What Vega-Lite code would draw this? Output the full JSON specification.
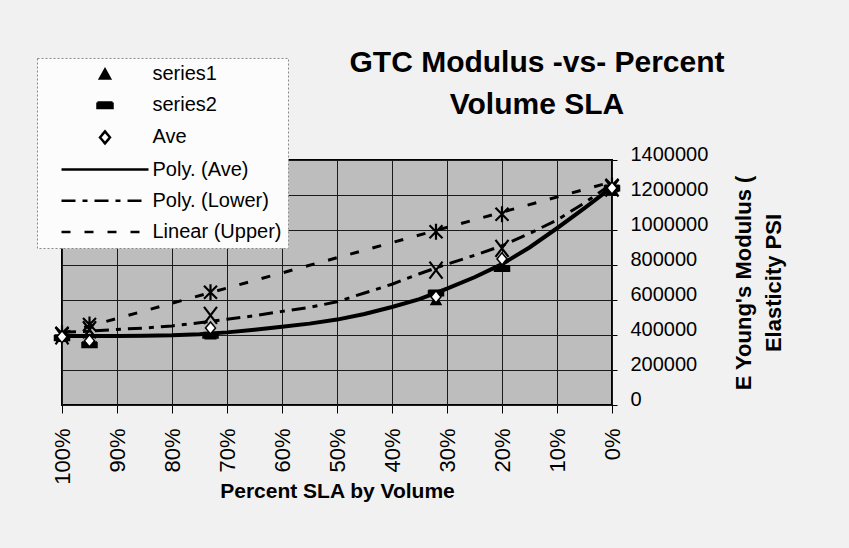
{
  "$schema": "https://vega.github.io/schema/vega-lite/v6.json",
  "width": 550,
  "height": 245,
  "autosize": {"type": "none"},
  "padding": {"left": 62, "top": 160, "right": 237, "bottom": 143},
  "background": "#f1f1f1",
  "config": {
    "font": "Liberation Sans",
    "view": {"fill": "#bdbdbd", "stroke": "#000000", "strokeWidth": 2},
    "axis": {"domain": false, "labelColor": "#000000", "titleColor": "#000000", "tickColor": "#000000", "gridColor": "#1a1a1a", "gridWidth": 1, "gridOpacity": 1},
    "legend": {"strokeWidth": 1, "strokeDash": [2, 2]}
  },
  "title": {
    "text": ["GTC Modulus -vs- Percent", "Volume SLA"],
    "font": "Liberation Sans",
    "fontSize": 30,
    "fontWeight": "bold",
    "color": "#000000",
    "anchor": "middle",
    "frame": "group",
    "dx": 200,
    "dy": 98,
    "lineHeight": 42,
    "offset": 36
  },
  "datasets": {
    "points": [
      {"series": "series1", "pct": 1.00, "value": 390000},
      {"series": "series1", "pct": 0.95, "value": 360000},
      {"series": "series1", "pct": 0.73, "value": 405000},
      {"series": "series1", "pct": 0.32, "value": 600000},
      {"series": "series1", "pct": 0.20, "value": 790000},
      {"series": "series1", "pct": 0.00, "value": 1230000},
      {"series": "series2", "pct": 1.00, "value": 385000},
      {"series": "series2", "pct": 0.95, "value": 345000},
      {"series": "series2", "pct": 0.73, "value": 398000},
      {"series": "series2", "pct": 0.32, "value": 640000},
      {"series": "series2", "pct": 0.20, "value": 780000},
      {"series": "series2", "pct": 0.00, "value": 1240000},
      {"series": "Ave", "pct": 1.00, "value": 390000},
      {"series": "Ave", "pct": 0.95, "value": 367000},
      {"series": "Ave", "pct": 0.73, "value": 440000},
      {"series": "Ave", "pct": 0.32, "value": 618000},
      {"series": "Ave", "pct": 0.20, "value": 835000},
      {"series": "Ave", "pct": 0.00, "value": 1240000},
      {"series": "Lower", "pct": 1.00, "value": 395000},
      {"series": "Lower", "pct": 0.95, "value": 430000},
      {"series": "Lower", "pct": 0.73, "value": 512000},
      {"series": "Lower", "pct": 0.32, "value": 771000},
      {"series": "Lower", "pct": 0.20, "value": 895000},
      {"series": "Lower", "pct": 0.00, "value": 1240000},
      {"series": "Upper", "pct": 1.00, "value": 410000},
      {"series": "Upper", "pct": 0.95, "value": 460000},
      {"series": "Upper", "pct": 0.73, "value": 644000},
      {"series": "Upper", "pct": 0.32, "value": 990000},
      {"series": "Upper", "pct": 0.20, "value": 1090000},
      {"series": "Upper", "pct": 0.00, "value": 1255000}
    ],
    "trends": [
      {"series": "Poly. (Ave)", "pct": 1.00, "value": 395000},
      {"series": "Poly. (Ave)", "pct": 0.95, "value": 395000},
      {"series": "Poly. (Ave)", "pct": 0.90, "value": 395000},
      {"series": "Poly. (Ave)", "pct": 0.85, "value": 396000},
      {"series": "Poly. (Ave)", "pct": 0.80, "value": 398000},
      {"series": "Poly. (Ave)", "pct": 0.75, "value": 404000},
      {"series": "Poly. (Ave)", "pct": 0.70, "value": 415000},
      {"series": "Poly. (Ave)", "pct": 0.65, "value": 430000},
      {"series": "Poly. (Ave)", "pct": 0.60, "value": 447000},
      {"series": "Poly. (Ave)", "pct": 0.55, "value": 465000},
      {"series": "Poly. (Ave)", "pct": 0.50, "value": 488000},
      {"series": "Poly. (Ave)", "pct": 0.45, "value": 520000},
      {"series": "Poly. (Ave)", "pct": 0.40, "value": 560000},
      {"series": "Poly. (Ave)", "pct": 0.35, "value": 605000},
      {"series": "Poly. (Ave)", "pct": 0.30, "value": 665000},
      {"series": "Poly. (Ave)", "pct": 0.25, "value": 730000},
      {"series": "Poly. (Ave)", "pct": 0.20, "value": 805000},
      {"series": "Poly. (Ave)", "pct": 0.15, "value": 900000},
      {"series": "Poly. (Ave)", "pct": 0.10, "value": 1010000},
      {"series": "Poly. (Ave)", "pct": 0.05, "value": 1125000},
      {"series": "Poly. (Ave)", "pct": 0.00, "value": 1245000},
      {"series": "Poly. (Lower)", "pct": 1.00, "value": 415000},
      {"series": "Poly. (Lower)", "pct": 0.95, "value": 422000},
      {"series": "Poly. (Lower)", "pct": 0.90, "value": 432000},
      {"series": "Poly. (Lower)", "pct": 0.85, "value": 440000},
      {"series": "Poly. (Lower)", "pct": 0.80, "value": 452000},
      {"series": "Poly. (Lower)", "pct": 0.75, "value": 470000},
      {"series": "Poly. (Lower)", "pct": 0.70, "value": 490000},
      {"series": "Poly. (Lower)", "pct": 0.65, "value": 510000},
      {"series": "Poly. (Lower)", "pct": 0.60, "value": 535000},
      {"series": "Poly. (Lower)", "pct": 0.55, "value": 558000},
      {"series": "Poly. (Lower)", "pct": 0.50, "value": 590000},
      {"series": "Poly. (Lower)", "pct": 0.45, "value": 640000},
      {"series": "Poly. (Lower)", "pct": 0.40, "value": 690000},
      {"series": "Poly. (Lower)", "pct": 0.35, "value": 750000},
      {"series": "Poly. (Lower)", "pct": 0.30, "value": 805000},
      {"series": "Poly. (Lower)", "pct": 0.25, "value": 855000},
      {"series": "Poly. (Lower)", "pct": 0.20, "value": 910000},
      {"series": "Poly. (Lower)", "pct": 0.15, "value": 980000},
      {"series": "Poly. (Lower)", "pct": 0.10, "value": 1057000},
      {"series": "Poly. (Lower)", "pct": 0.05, "value": 1155000},
      {"series": "Poly. (Lower)", "pct": 0.00, "value": 1265000},
      {"series": "Linear (Upper)", "pct": 1.00, "value": 408000},
      {"series": "Linear (Upper)", "pct": 0.00, "value": 1275000}
    ]
  },
  "encoding": {
    "x": {
      "field": "pct",
      "type": "quantitative",
      "scale": {"domain": [0, 1], "reverse": true, "nice": false},
      "axis": {
        "title": "Percent SLA by Volume",
        "titleFont": "Liberation Sans",
        "titleFontSize": 21,
        "titleFontWeight": "bold",
        "titlePadding": -4,
        "values": [0, 0.1, 0.2, 0.3, 0.4, 0.5, 0.6, 0.7, 0.8, 0.9, 1],
        "format": ".0%",
        "labelAngle": 270,
        "labelFontSize": 22,
        "labelPadding": 15,
        "tickSize": 8,
        "grid": true
      }
    },
    "y": {
      "field": "value",
      "type": "quantitative",
      "scale": {"domain": [0, 1400000], "nice": false},
      "axis": {
        "orient": "right",
        "title": ["E Young's Modulus (", "Elasticity PSI"],
        "titleFont": "Liberation Sans",
        "titleFontSize": 22,
        "titleFontWeight": "bold",
        "titleAngle": 270,
        "titleBaseline": "top",
        "titleLineHeight": 30,
        "titlePadding": -4,
        "values": [0, 200000, 400000, 600000, 800000, 1000000, 1200000, 1400000],
        "format": "d",
        "labelFontSize": 20,
        "labelPadding": 13,
        "labelOffset": -6,
        "tickSize": 5,
        "grid": true
      }
    }
  },
  "layer": [
    {
      "data": {"name": "trends"},
      "transform": [{"filter": "datum.series === 'Poly. (Ave)'"}],
      "mark": {"type": "line", "color": "#000000", "strokeWidth": 4, "clip": true},
      "encoding": {}
    },
    {
      "data": {"name": "trends"},
      "transform": [{"filter": "datum.series === 'Poly. (Lower)'"}],
      "mark": {"type": "line", "color": "#000000", "strokeWidth": 3, "strokeDash": [14, 7, 5, 7], "clip": true},
      "encoding": {}
    },
    {
      "data": {"name": "trends"},
      "transform": [{"filter": "datum.series === 'Linear (Upper)'"}],
      "mark": {"type": "line", "color": "#000000", "strokeWidth": 3, "strokeDash": [9, 14], "clip": true},
      "encoding": {}
    },
    {
      "data": {"name": "points"},
      "transform": [{"filter": "datum.series === 'Upper'"}],
      "mark": {"type": "point", "filled": false, "stroke": "#000000", "strokeWidth": 2.2, "size": 100, "opacity": 1, "shape": "M-1.3,-1.3L1.3,1.3M-1.3,1.3L1.3,-1.3M0,-1.6V1.6"},
      "encoding": {}
    },
    {
      "data": {"name": "points"},
      "transform": [{"filter": "datum.series === 'Lower'"}],
      "mark": {"type": "point", "filled": false, "stroke": "#000000", "strokeWidth": 2.2, "size": 100, "opacity": 1, "shape": "M-1.3,-1.7L1.3,1.7M-1.3,1.7L1.3,-1.7"},
      "encoding": {}
    },
    {
      "data": {"name": "points"},
      "transform": [{"filter": "datum.series === 'series1' || datum.series === 'series2' || datum.series === 'Ave'"}],
      "mark": {"type": "point", "filled": true, "strokeWidth": 1.5, "size": 100, "opacity": 1},
      "encoding": {
        "shape": {
          "field": "series",
          "type": "nominal",
          "scale": {
            "domain": ["series1", "series2", "Ave", "Poly. (Ave)", "Poly. (Lower)", "Linear (Upper)"],
            "range": ["M0,-0.9L1,0.9L-1,0.9Z", "M-1.5,-0.55H1.5V0.55H-1.5Z", "M0,-1.2L1,0L0,1.2L-1,0Z", "M-8.7,0H8.7", "M-8.7,0H8.7", "M-8.7,0H8.7"]
          },
          "legend": {"title": null, "orient": "none", "legendX": -25, "legendY": -102, "padding": 6, "rowPadding": 11.2, "symbolSize": 100, "symbolOffset": 52, "labelOffset": 37.5, "symbolStrokeWidth": 2.5, "symbolFillColor": "#000000", "symbolStrokeColor": "#000000", "labelFont": "Liberation Sans", "labelFontSize": 20, "labelColor": "#000000", "fillColor": "#fcfcfc", "strokeColor": "#8a8a8a"}
        },
        "fill": {
          "field": "series",
          "type": "nominal",
          "scale": {
            "domain": ["series1", "series2", "Ave", "Poly. (Ave)", "Poly. (Lower)", "Linear (Upper)"],
            "range": ["#000000", "#000000", "#ffffff", "#000000", "#000000", "#000000"]
          },
          "legend": {"title": null, "orient": "none", "legendX": -25, "legendY": -102, "padding": 6, "rowPadding": 11.2, "symbolSize": 100, "symbolOffset": 52, "labelOffset": 37.5, "symbolStrokeWidth": 2.5, "symbolFillColor": "#000000", "symbolStrokeColor": "#000000", "labelFont": "Liberation Sans", "labelFontSize": 20, "labelColor": "#000000", "fillColor": "#fcfcfc", "strokeColor": "#8a8a8a"}
        },
        "stroke": {
          "field": "series",
          "type": "nominal",
          "scale": {
            "domain": ["series1", "series2", "Ave", "Poly. (Ave)", "Poly. (Lower)", "Linear (Upper)"],
            "range": ["#000000", "#000000", "#000000", "#000000", "#000000", "#000000"]
          },
          "legend": {"title": null, "orient": "none", "legendX": -25, "legendY": -102, "padding": 6, "rowPadding": 11.2, "symbolSize": 100, "symbolOffset": 52, "labelOffset": 37.5, "symbolStrokeWidth": 2.5, "symbolFillColor": "#000000", "symbolStrokeColor": "#000000", "labelFont": "Liberation Sans", "labelFontSize": 20, "labelColor": "#000000", "fillColor": "#fcfcfc", "strokeColor": "#8a8a8a"}
        },
        "strokeDash": {
          "field": "series",
          "type": "nominal",
          "scale": {
            "domain": ["series1", "series2", "Ave", "Poly. (Ave)", "Poly. (Lower)", "Linear (Upper)"],
            "range": [[1, 0], [1, 0], [1, 0], [1, 0], [14, 7, 5, 7], [9, 14]]
          },
          "legend": {"title": null, "orient": "none", "legendX": -25, "legendY": -102, "padding": 6, "rowPadding": 11.2, "symbolSize": 100, "symbolOffset": 52, "labelOffset": 37.5, "symbolStrokeWidth": 2.5, "symbolFillColor": "#000000", "symbolStrokeColor": "#000000", "labelFont": "Liberation Sans", "labelFontSize": 20, "labelColor": "#000000", "fillColor": "#fcfcfc", "strokeColor": "#8a8a8a"}
        }
      }
    }
  ]
}
